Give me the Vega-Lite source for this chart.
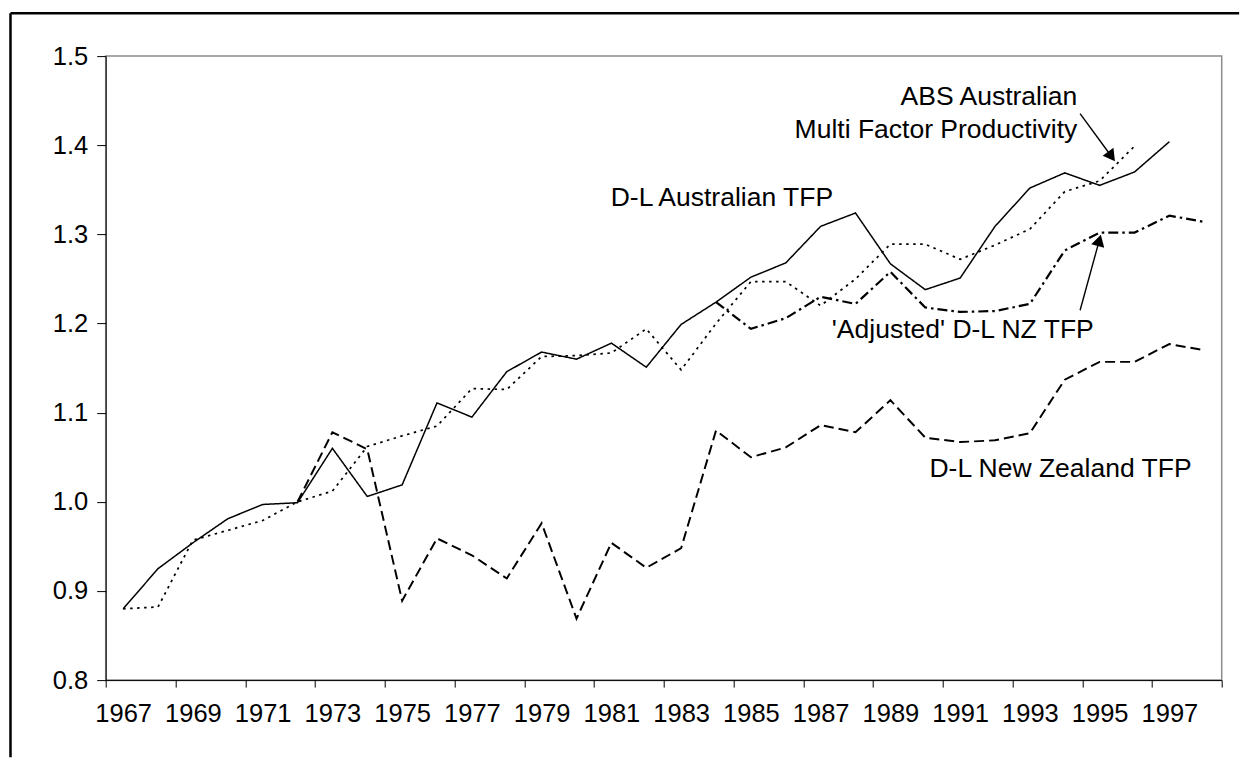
{
  "$schema": "https://vega.github.io/schema/vega-lite/v6.json",
  "width": 1116,
  "height": 624,
  "autosize": {"type": "none"},
  "padding": {"left": 105.7, "top": 56.1, "right": 18.3, "bottom": 77.9},
  "background": "white",
  "config": {
    "font": "Liberation Sans",
    "view": {"stroke": "#8c8c8c", "strokeWidth": 1.5},
    "axis": {
      "grid": false,
      "domainColor": "black",
      "tickColor": "black",
      "labelColor": "black",
      "labelFont": "Liberation Sans",
      "labelFontSize": 25.5,
      "title": null,
      "labelFlush": false,
      "labelOverlap": false
    }
  },
  "datasets": {
    "series": [
      {"series": "D-L Australian TFP", "year": 1967, "value": 0.880},
      {"series": "D-L Australian TFP", "year": 1968, "value": 0.925},
      {"series": "D-L Australian TFP", "year": 1969, "value": 0.954},
      {"series": "D-L Australian TFP", "year": 1970, "value": 0.981},
      {"series": "D-L Australian TFP", "year": 1971, "value": 0.997},
      {"series": "D-L Australian TFP", "year": 1972, "value": 0.999},
      {"series": "D-L Australian TFP", "year": 1973, "value": 1.060},
      {"series": "D-L Australian TFP", "year": 1974, "value": 1.006},
      {"series": "D-L Australian TFP", "year": 1975, "value": 1.019},
      {"series": "D-L Australian TFP", "year": 1976, "value": 1.111},
      {"series": "D-L Australian TFP", "year": 1977, "value": 1.095},
      {"series": "D-L Australian TFP", "year": 1978, "value": 1.146},
      {"series": "D-L Australian TFP", "year": 1979, "value": 1.168},
      {"series": "D-L Australian TFP", "year": 1980, "value": 1.160},
      {"series": "D-L Australian TFP", "year": 1981, "value": 1.178},
      {"series": "D-L Australian TFP", "year": 1982, "value": 1.151},
      {"series": "D-L Australian TFP", "year": 1983, "value": 1.199},
      {"series": "D-L Australian TFP", "year": 1984, "value": 1.224},
      {"series": "D-L Australian TFP", "year": 1985, "value": 1.252},
      {"series": "D-L Australian TFP", "year": 1986, "value": 1.268},
      {"series": "D-L Australian TFP", "year": 1987, "value": 1.309},
      {"series": "D-L Australian TFP", "year": 1988, "value": 1.324},
      {"series": "D-L Australian TFP", "year": 1989, "value": 1.267},
      {"series": "D-L Australian TFP", "year": 1990, "value": 1.238},
      {"series": "D-L Australian TFP", "year": 1991, "value": 1.251},
      {"series": "D-L Australian TFP", "year": 1992, "value": 1.309},
      {"series": "D-L Australian TFP", "year": 1993, "value": 1.352},
      {"series": "D-L Australian TFP", "year": 1994, "value": 1.369},
      {"series": "D-L Australian TFP", "year": 1995, "value": 1.355},
      {"series": "D-L Australian TFP", "year": 1996, "value": 1.370},
      {"series": "D-L Australian TFP", "year": 1997, "value": 1.404},

      {"series": "ABS Australian Multi Factor Productivity", "year": 1967, "value": 0.880},
      {"series": "ABS Australian Multi Factor Productivity", "year": 1968, "value": 0.882},
      {"series": "ABS Australian Multi Factor Productivity", "year": 1969, "value": 0.957},
      {"series": "ABS Australian Multi Factor Productivity", "year": 1970, "value": 0.968},
      {"series": "ABS Australian Multi Factor Productivity", "year": 1971, "value": 0.979},
      {"series": "ABS Australian Multi Factor Productivity", "year": 1972, "value": 1.000},
      {"series": "ABS Australian Multi Factor Productivity", "year": 1973, "value": 1.012},
      {"series": "ABS Australian Multi Factor Productivity", "year": 1974, "value": 1.062},
      {"series": "ABS Australian Multi Factor Productivity", "year": 1975, "value": 1.074},
      {"series": "ABS Australian Multi Factor Productivity", "year": 1976, "value": 1.085},
      {"series": "ABS Australian Multi Factor Productivity", "year": 1977, "value": 1.127},
      {"series": "ABS Australian Multi Factor Productivity", "year": 1978, "value": 1.126},
      {"series": "ABS Australian Multi Factor Productivity", "year": 1979, "value": 1.163},
      {"series": "ABS Australian Multi Factor Productivity", "year": 1980, "value": 1.164},
      {"series": "ABS Australian Multi Factor Productivity", "year": 1981, "value": 1.167},
      {"series": "ABS Australian Multi Factor Productivity", "year": 1982, "value": 1.194},
      {"series": "ABS Australian Multi Factor Productivity", "year": 1983, "value": 1.148},
      {"series": "ABS Australian Multi Factor Productivity", "year": 1984, "value": 1.200},
      {"series": "ABS Australian Multi Factor Productivity", "year": 1985, "value": 1.247},
      {"series": "ABS Australian Multi Factor Productivity", "year": 1986, "value": 1.247},
      {"series": "ABS Australian Multi Factor Productivity", "year": 1987, "value": 1.220},
      {"series": "ABS Australian Multi Factor Productivity", "year": 1988, "value": 1.250},
      {"series": "ABS Australian Multi Factor Productivity", "year": 1989, "value": 1.289},
      {"series": "ABS Australian Multi Factor Productivity", "year": 1990, "value": 1.289},
      {"series": "ABS Australian Multi Factor Productivity", "year": 1991, "value": 1.272},
      {"series": "ABS Australian Multi Factor Productivity", "year": 1992, "value": 1.288},
      {"series": "ABS Australian Multi Factor Productivity", "year": 1993, "value": 1.306},
      {"series": "ABS Australian Multi Factor Productivity", "year": 1994, "value": 1.348},
      {"series": "ABS Australian Multi Factor Productivity", "year": 1995, "value": 1.360},
      {"series": "ABS Australian Multi Factor Productivity", "year": 1996, "value": 1.399},

      {"series": "D-L New Zealand TFP", "year": 1972, "value": 1.000},
      {"series": "D-L New Zealand TFP", "year": 1973, "value": 1.078},
      {"series": "D-L New Zealand TFP", "year": 1974, "value": 1.059},
      {"series": "D-L New Zealand TFP", "year": 1975, "value": 0.889},
      {"series": "D-L New Zealand TFP", "year": 1976, "value": 0.959},
      {"series": "D-L New Zealand TFP", "year": 1977, "value": 0.940},
      {"series": "D-L New Zealand TFP", "year": 1978, "value": 0.914},
      {"series": "D-L New Zealand TFP", "year": 1979, "value": 0.976},
      {"series": "D-L New Zealand TFP", "year": 1980, "value": 0.869},
      {"series": "D-L New Zealand TFP", "year": 1981, "value": 0.954},
      {"series": "D-L New Zealand TFP", "year": 1982, "value": 0.926},
      {"series": "D-L New Zealand TFP", "year": 1983, "value": 0.948},
      {"series": "D-L New Zealand TFP", "year": 1984, "value": 1.080},
      {"series": "D-L New Zealand TFP", "year": 1985, "value": 1.050},
      {"series": "D-L New Zealand TFP", "year": 1986, "value": 1.061},
      {"series": "D-L New Zealand TFP", "year": 1987, "value": 1.086},
      {"series": "D-L New Zealand TFP", "year": 1988, "value": 1.078},
      {"series": "D-L New Zealand TFP", "year": 1989, "value": 1.114},
      {"series": "D-L New Zealand TFP", "year": 1990, "value": 1.072},
      {"series": "D-L New Zealand TFP", "year": 1991, "value": 1.067},
      {"series": "D-L New Zealand TFP", "year": 1992, "value": 1.069},
      {"series": "D-L New Zealand TFP", "year": 1993, "value": 1.077},
      {"series": "D-L New Zealand TFP", "year": 1994, "value": 1.137},
      {"series": "D-L New Zealand TFP", "year": 1995, "value": 1.157},
      {"series": "D-L New Zealand TFP", "year": 1996, "value": 1.157},
      {"series": "D-L New Zealand TFP", "year": 1997, "value": 1.177},
      {"series": "D-L New Zealand TFP", "year": 1998, "value": 1.170},

      {"series": "'Adjusted' D-L NZ TFP", "year": 1984, "value": 1.224},
      {"series": "'Adjusted' D-L NZ TFP", "year": 1985, "value": 1.194},
      {"series": "'Adjusted' D-L NZ TFP", "year": 1986, "value": 1.206},
      {"series": "'Adjusted' D-L NZ TFP", "year": 1987, "value": 1.230},
      {"series": "'Adjusted' D-L NZ TFP", "year": 1988, "value": 1.222},
      {"series": "'Adjusted' D-L NZ TFP", "year": 1989, "value": 1.258},
      {"series": "'Adjusted' D-L NZ TFP", "year": 1990, "value": 1.218},
      {"series": "'Adjusted' D-L NZ TFP", "year": 1991, "value": 1.213},
      {"series": "'Adjusted' D-L NZ TFP", "year": 1992, "value": 1.214},
      {"series": "'Adjusted' D-L NZ TFP", "year": 1993, "value": 1.222},
      {"series": "'Adjusted' D-L NZ TFP", "year": 1994, "value": 1.282},
      {"series": "'Adjusted' D-L NZ TFP", "year": 1995, "value": 1.302},
      {"series": "'Adjusted' D-L NZ TFP", "year": 1996, "value": 1.302},
      {"series": "'Adjusted' D-L NZ TFP", "year": 1997, "value": 1.321},
      {"series": "'Adjusted' D-L NZ TFP", "year": 1998, "value": 1.314}
    ],
    "notes": [
      {"label": "ABS Australian", "x": 1994.36, "y": 1.4447, "side": "right"},
      {"label": "Multi Factor Productivity", "x": 1994.36, "y": 1.4085, "side": "right"},
      {"label": "D-L Australian TFP", "x": 1980.98, "y": 1.3315, "side": "left"},
      {"label": "'Adjusted' D-L NZ TFP", "x": 1987.32, "y": 1.1839, "side": "left"},
      {"label": "D-L New Zealand TFP", "x": 1990.12, "y": 1.028, "side": "left"}
    ],
    "arrows": [
      {"target": "ABS", "x": 1994.44, "y": 1.4354, "x2": 1995.34, "y2": 1.3874},
      {"target": "Adjusted", "x": 1994.44, "y": 1.2149, "x2": 1994.99, "y2": 1.2933}
    ]
  },
  "layer": [
    {
      "data": {"values": [{"frame": "left edge"}]},
      "mark": {"type": "rule", "color": "black", "strokeWidth": 2.5, "clip": false},
      "encoding": {
        "x": {"datum": 1963.77, "type": "quantitative", "scale": {"domain": [1966.5, 1998.5], "nice": false, "zero": false}},
        "y": {"datum": 1.5482, "type": "quantitative", "scale": {"domain": [0.8, 1.5], "nice": false, "zero": false}},
        "y2": {"datum": 0.7135}
      }
    },
    {
      "data": {"values": [{"frame": "top edge"}]},
      "mark": {"type": "rule", "color": "black", "strokeWidth": 2.5, "clip": false},
      "encoding": {
        "x": {"datum": 1963.77, "type": "quantitative", "scale": {"domain": [1966.5, 1998.5], "nice": false, "zero": false}},
        "x2": {"datum": 1999.0},
        "y": {"datum": 1.5482, "type": "quantitative", "scale": {"domain": [0.8, 1.5], "nice": false, "zero": false}}
      }
    },
    {
      "data": {"name": "series"},
      "mark": {"type": "line", "color": "black", "strokeCap": "butt"},
      "encoding": {
        "x": {
          "field": "year", "type": "quantitative",
          "scale": {"domain": [1966.5, 1998.5], "nice": false, "zero": false},
          "axis": {
            "values": [1966.5, 1967.5, 1968.5, 1969.5, 1970.5, 1971.5, 1972.5, 1973.5, 1974.5, 1975.5, 1976.5, 1977.5, 1978.5, 1979.5, 1980.5, 1981.5, 1982.5, 1983.5, 1984.5, 1985.5, 1986.5, 1987.5, 1988.5, 1989.5, 1990.5, 1991.5, 1992.5, 1993.5, 1994.5, 1995.5, 1996.5, 1997.5, 1998.5],
            "labelExpr": "((datum.value + 0.5) % 2 == 1 && datum.value < 1998) ? format(datum.value + 0.5, 'd') : ''",
            "labelOffset": 17.44,
            "tickSize": 7,
            "labelPadding": 14
          }
        },
        "y": {
          "field": "value", "type": "quantitative",
          "scale": {"domain": [0.8, 1.5], "nice": false, "zero": false},
          "axis": {"values": [0.8, 0.9, 1.0, 1.1, 1.2, 1.3, 1.4, 1.5], "format": ".1f", "tickSize": 9, "labelPadding": 9}
        },
        "detail": {"field": "series"},
        "strokeDash": {
          "field": "series", "type": "nominal", "legend": null,
          "scale": {
            "domain": ["D-L Australian TFP", "ABS Australian Multi Factor Productivity", "D-L New Zealand TFP", "'Adjusted' D-L NZ TFP"],
            "range": [[1, 0], [2.5, 4.5], [10, 5], [10, 4, 2.5, 4]]
          }
        },
        "strokeWidth": {
          "field": "series", "type": "nominal", "legend": null,
          "scale": {
            "domain": ["D-L Australian TFP", "ABS Australian Multi Factor Productivity", "D-L New Zealand TFP", "'Adjusted' D-L NZ TFP"],
            "range": [1.5, 2.2, 1.7, 1.8]
          }
        }
      }
    },
    {
      "data": {"name": "arrows"},
      "mark": {"type": "rule", "color": "black", "strokeWidth": 1.4},
      "encoding": {
        "x": {"field": "x", "type": "quantitative", "scale": {"domain": [1966.5, 1998.5], "nice": false, "zero": false}},
        "y": {"field": "y", "type": "quantitative", "scale": {"domain": [0.8, 1.5], "nice": false, "zero": false}},
        "x2": {"field": "x2"},
        "y2": {"field": "y2"}
      }
    },
    {
      "data": {"name": "arrows"},
      "transform": [{"filter": "datum.target == 'ABS'"}],
      "mark": {"type": "point", "shape": "triangle-up", "filled": true, "color": "black", "opacity": 1, "size": 180, "angle": 143.6},
      "encoding": {
        "x": {"field": "x2", "type": "quantitative", "scale": {"domain": [1966.5, 1998.5], "nice": false, "zero": false}},
        "y": {"field": "y2", "type": "quantitative", "scale": {"domain": [0.8, 1.5], "nice": false, "zero": false}}
      }
    },
    {
      "data": {"name": "arrows"},
      "transform": [{"filter": "datum.target == 'Adjusted'"}],
      "mark": {"type": "point", "shape": "triangle-up", "filled": true, "color": "black", "opacity": 1, "size": 180, "angle": 15.3},
      "encoding": {
        "x": {"field": "x2", "type": "quantitative", "scale": {"domain": [1966.5, 1998.5], "nice": false, "zero": false}},
        "y": {"field": "y2", "type": "quantitative", "scale": {"domain": [0.8, 1.5], "nice": false, "zero": false}}
      }
    },
    {
      "data": {"name": "notes"},
      "transform": [{"filter": "datum.side == 'right'"}],
      "mark": {"type": "text", "align": "right", "baseline": "alphabetic", "fontSize": 26.5, "font": "Liberation Sans", "color": "black"},
      "encoding": {
        "x": {"field": "x", "type": "quantitative", "scale": {"domain": [1966.5, 1998.5], "nice": false, "zero": false}},
        "y": {"field": "y", "type": "quantitative", "scale": {"domain": [0.8, 1.5], "nice": false, "zero": false}},
        "text": {"field": "label"}
      }
    },
    {
      "data": {"name": "notes"},
      "transform": [{"filter": "datum.side == 'left'"}],
      "mark": {"type": "text", "align": "left", "baseline": "alphabetic", "fontSize": 26.5, "font": "Liberation Sans", "color": "black"},
      "encoding": {
        "x": {"field": "x", "type": "quantitative", "scale": {"domain": [1966.5, 1998.5], "nice": false, "zero": false}},
        "y": {"field": "y", "type": "quantitative", "scale": {"domain": [0.8, 1.5], "nice": false, "zero": false}},
        "text": {"field": "label"}
      }
    }
  ]
}
